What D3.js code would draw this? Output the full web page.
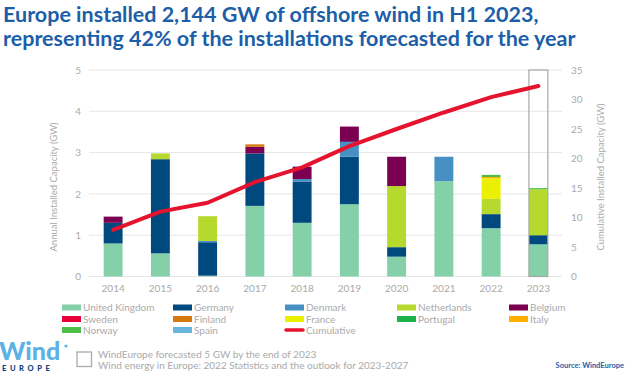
<!DOCTYPE html>
<html>
<head>
<meta charset="utf-8">
<script src="https://cdn.jsdelivr.net/npm/d3@7"></script>
<style>
 body { margin: 0; background: #fff; }
 text { font-family: Lato, "Open Sans", sans-serif; }
</style>
</head>
<body>
<script>
// years on the x axis
var years = ["2014", "2015", "2016", "2017", "2018", "2019", "2020", "2021", "2022", "2023"];
// annual installations per country, GW
var unitedKingdom = [0.80, 0.56, 0.02, 1.71, 1.30, 1.75, 0.48, 2.31, 1.17, 0.78];
var germany       = [0.50, 2.28, 0.81, 1.27, 1.00, 1.15, 0.23, 0.00, 0.34, 0.22];
var denmark       = [0.00, 0.00, 0.03, 0.00, 0.06, 0.36, 0.00, 0.59, 0.00, 0.00];
var netherlands   = [0.00, 0.14, 0.60, 0.00, 0.00, 0.00, 1.48, 0.00, 0.37, 1.11];
var belgium       = [0.15, 0.00, 0.00, 0.16, 0.30, 0.37, 0.71, 0.00, 0.00, 0.00];
var sweden        = [0, 0, 0, 0, 0, 0, 0, 0, 0, 0];
var finland       = [0.00, 0.00, 0.00, 0.06, 0.00, 0.00, 0.00, 0.00, 0.00, 0.00];
var france        = [0.00, 0.00, 0.00, 0.00, 0.00, 0.00, 0.00, 0.00, 0.50, 0.00];
var portugal      = [0, 0, 0, 0, 0, 0, 0, 0, 0, 0];
var italy         = [0.00, 0.00, 0.00, 0.00, 0.00, 0.00, 0.00, 0.00, 0.03, 0.00];
var norway        = [0.00, 0.00, 0.00, 0.00, 0.00, 0.00, 0.00, 0.00, 0.05, 0.03];
var spain         = [0, 0, 0, 0, 0, 0, 0, 0, 0, 0];
// cumulative installed capacity, GW
var cumulative = [7.9, 11.0, 12.5, 16.0, 18.5, 22.1, 25.0, 27.8, 30.4, 32.3];
// forecast for the full year 2023, GW
var forecast2023 = 5;
var leftTicks = [0, 1, 2, 3, 4, 5];
var rightTicks = [0, 5, 10, 15, 20, 25, 30, 35];

var countries = ["United Kingdom", "Germany", "Denmark", "Netherlands", "Belgium",
  "Sweden", "Finland", "France", "Portugal", "Italy", "Norway", "Spain"];
var series = [unitedKingdom, germany, denmark, netherlands, belgium,
  sweden, finland, france, portugal, italy, norway, spain];
var colors = ["#84d0a9", "#00497f", "#4690c4", "#b6d92e", "#7b0052",
  "#e8003a", "#d47a10", "#eaf000", "#1bb24b", "#ffaf00", "#4cbd47", "#6ab4e0"];

var width = 627, height = 376;
var svg = d3.select("body").append("svg")
  .attr("width", width)
  .attr("height", height);

// title
svg.append("text").attr("x", 3).attr("y", 22)
  .attr("fill", "#1c5ea8").attr("font-size", 21.5).attr("font-weight", 700)
  .text("Europe installed 2,144 GW of offshore wind in H1 2023,");
svg.append("text").attr("x", 3).attr("y", 46)
  .attr("fill", "#1c5ea8").attr("font-size", 21.5).attr("font-weight", 700)
  .text("representing 42% of the installations forecasted for the year");

var x = d3.scaleBand().domain(years).range([89.5, 562]).paddingInner(0.6).paddingOuter(0.3);
var y = d3.scaleLinear().domain([0, 5]).range([276.5, 70]);
var y2 = d3.scaleLinear().domain([0, 35]).range([276.5, 70]);

// gridlines
svg.append("g").selectAll("line").data(leftTicks).enter().append("line")
  .attr("x1", 89).attr("x2", 562)
  .attr("y1", function(d) { return y(d); }).attr("y2", function(d) { return y(d); })
  .attr("stroke", "#e6e6e6").attr("stroke-width", 1);

// left axis
var leftAxis = svg.append("g").attr("transform", "translate(81,0)")
  .call(d3.axisLeft(y).tickValues(leftTicks).tickFormat(d3.format("d")).tickSize(0).tickPadding(0));
leftAxis.select(".domain").remove();
leftAxis.selectAll("text").attr("fill", "#aaa").attr("font-size", 10).style("font-family", "Lato");

// right axis
var rightAxis = svg.append("g").attr("transform", "translate(571,0)")
  .call(d3.axisRight(y2).tickValues(rightTicks).tickSize(0).tickPadding(0));
rightAxis.select(".domain").remove();
rightAxis.selectAll("text").attr("fill", "#aaa").attr("font-size", 10).style("font-family", "Lato");

// bottom axis
var bottomAxis = svg.append("g").attr("transform", "translate(0,279)")
  .call(d3.axisBottom(x).tickSize(0).tickPadding(6));
bottomAxis.select(".domain").remove();
bottomAxis.selectAll("text").attr("fill", "#aaa").attr("font-size", 10).style("font-family", "Lato");

// axis titles
svg.append("text")
  .attr("transform", "translate(57,187) rotate(-90)")
  .attr("text-anchor", "middle").attr("fill", "#aaa").attr("font-size", 9.5)
  .text("Annual Installed Capacity (GW)");
svg.append("text")
  .attr("transform", "translate(604,177) rotate(-90)")
  .attr("text-anchor", "middle").attr("fill", "#aaa").attr("font-size", 9.5)
  .text("Cumulative Installed Capacity (GW)");

// stacked bars
var table = years.map(function(yr, i) {
  var row = { year: yr };
  countries.forEach(function(c, j) { row[c] = series[j][i]; });
  return row;
});
var stack = d3.stack().keys(countries)(table);

svg.append("g").selectAll("g").data(stack).enter().append("g")
  .attr("fill", function(d, i) { return colors[i]; })
  .selectAll("rect").data(function(d) { return d; }).enter().append("rect")
  .attr("x", function(d) { return x(d.data.year); })
  .attr("width", x.bandwidth())
  .attr("y", function(d) { return y(d[1]); })
  .attr("height", function(d) { return y(d[0]) - y(d[1]); });

// forecast outline for 2023
svg.append("rect")
  .attr("x", x("2023")).attr("width", x.bandwidth())
  .attr("y", y(forecast2023)).attr("height", y(0) - y(forecast2023))
  .attr("fill", "none").attr("stroke", "#a8a8a8").attr("stroke-width", 1.2);

// cumulative line
var line = d3.line()
  .x(function(d, i) { return x(years[i]) + x.bandwidth() / 2; })
  .y(function(d) { return y2(d); });
svg.append("path").datum(cumulative)
  .attr("d", line)
  .attr("fill", "none").attr("stroke", "#e5132d").attr("stroke-width", 4)
  .attr("stroke-linecap", "round").attr("stroke-linejoin", "round");

// legend
var legendCols = [62, 173, 285, 397, 509];
var legendRows = [307.5, 319, 330];
var legendItems = countries.concat(["Cumulative"]);
var legend = svg.append("g").selectAll("g").data(legendItems).enter().append("g")
  .attr("transform", function(d, i) {
    return "translate(" + legendCols[i % 5] + "," + legendRows[Math.floor(i / 5)] + ")";
  });
legend.each(function(d, i) {
  var g = d3.select(this);
  if (d === "Cumulative") {
    g.append("line").attr("x1", 1).attr("x2", 18).attr("y1", 0).attr("y2", 0)
      .attr("stroke", "#e5132d").attr("stroke-width", 3.5).attr("stroke-linecap", "round");
  } else {
    g.append("rect").attr("x", 0).attr("y", -3).attr("width", 19).attr("height", 6)
      .attr("fill", colors[i]);
  }
  g.append("text").attr("x", 21).attr("y", 3.5)
    .attr("fill", "#aaa").attr("font-size", 10).text(d);
});

// footer: logo
svg.append("text").attr("x", -1).attr("y", 360)
  .attr("fill", "#5cb2e4").attr("font-size", 25).attr("font-weight", 900)
  .text("Wind");
svg.append("circle").attr("cx", 66).attr("cy", 346).attr("r", 1.6).attr("fill", "#5cb2e4");
svg.append("text").attr("x", 2).attr("y", 371)
  .attr("fill", "#0c3f78").attr("font-size", 7.5).attr("font-weight", 900)
  .attr("letter-spacing", 3.6)
  .text("EUROPE");

// footer: forecast note
svg.append("rect").attr("x", 77).attr("y", 352).attr("width", 14.5).attr("height", 14.5)
  .attr("fill", "none").attr("stroke", "#aaa").attr("stroke-width", 1.3);
svg.append("text").attr("x", 98).attr("y", 357.5)
  .attr("fill", "#aaa").attr("font-size", 10)
  .text("WindEurope forecasted 5 GW by the end of 2023");
svg.append("text").attr("x", 98).attr("y", 368.5)
  .attr("fill", "#aaa").attr("font-size", 10)
  .text("Wind energy in Europe: 2022 Statistics and the outlook for 2023-2027");
svg.append("text").attr("x", 624).attr("y", 368)
  .attr("text-anchor", "end")
  .attr("fill", "#1c5ea8").attr("font-size", 7.5).attr("font-weight", 700)
  .text("Source: WindEurope");
</script>
</body>
</html>
